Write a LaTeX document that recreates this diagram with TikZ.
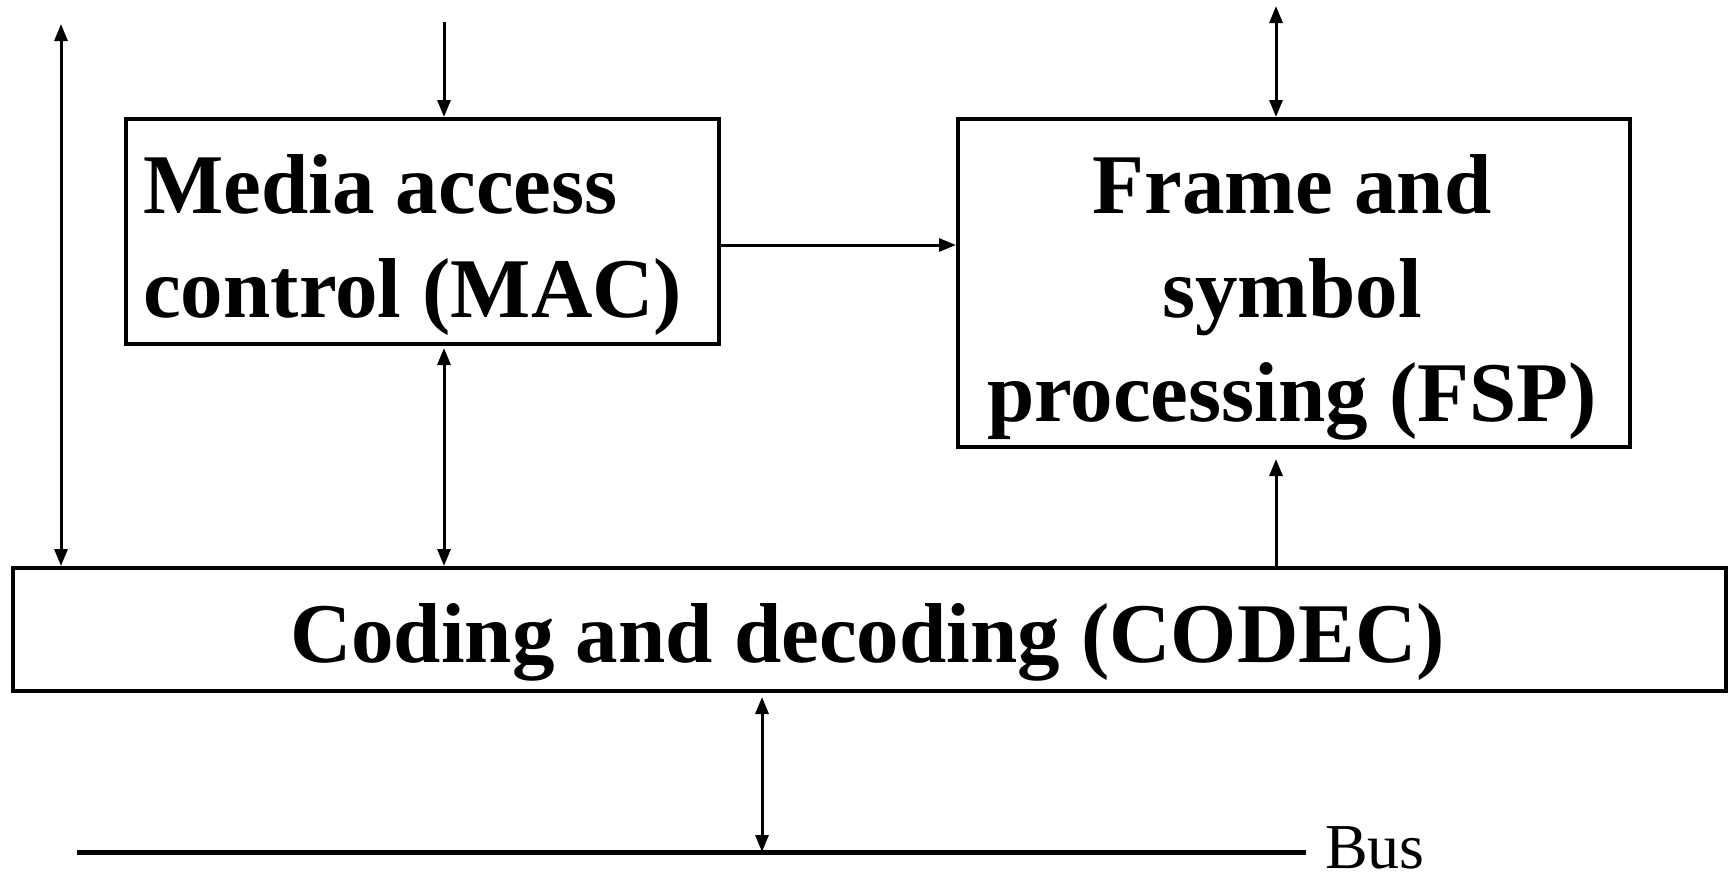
\documentclass[tikz,border=0pt]{standalone}
\usepackage{fontspec}
\setmainfont{Liberation Serif}
\usetikzlibrary{arrows.meta}
\begin{document}
\begin{tikzpicture}[x=1pt,y=-1pt,
  blk/.style={draw,line width=4pt,rectangle,inner sep=0pt,anchor=north west},
  txt/.style={font=\fontsize{85}{104}\selectfont\bfseries,inner sep=0pt},
  con/.style={line width=3pt,-{Triangle[length=17pt,width=13pt]}},
  bicon/.style={line width=3pt,{Triangle[length=17pt,width=13pt]}-{Triangle[length=17pt,width=13pt]}}]
\useasboundingbox (0,0) rectangle (1731,884);
% boxes
\node[blk,minimum width=593pt,minimum height=225pt] (mac) at (124,117) {};
\node[blk,minimum width=672pt,minimum height=328pt] (fsp) at (956,117) {};
\node[blk,minimum width=1713pt,minimum height=123pt] (codec) at (11,566) {};
% texts
\node[txt,anchor=base west] (mac1) at (143,213) {Media access};
\node[txt,anchor=base west] (mac2) at (143,317) {control (MAC)};
\node[txt,anchor=base] (fsp1) at (1292,213) {Frame and};
\node[txt,anchor=base] (fsp2) at (1292,317) {symbol};
\node[txt,anchor=base] (fsp3) at (1292,421) {processing (FSP)};
\node[txt,anchor=base] (codect) at (867.5,662) {Coding and decoding (CODEC)};
% free ends
\coordinate (ltop) at (61,24);
\coordinate (mtop) at (444,22);
\coordinate (ftop) at (1276,6);
\coordinate (busl) at (77,852);
\coordinate (busr) at (1306,852);
\coordinate (busj) at (762,852);
% connectors
\draw[bicon] (ltop) -- (ltop |- codec.north);
\draw[con] (mtop) -- (mtop |- mac.north);
\draw[bicon] (mtop |- mac.south) ++(0,2) -- (mtop |- codec.north);
\draw[con] (mac.east |- 0,245) -- (fsp.west |- 0,245);
\draw[bicon] (ftop) -- (ftop |- fsp.north);
\draw[con] (ftop |- codec.north) -- ([yshift=-10pt]ftop |- fsp.south);
\draw[line width=5pt] (busl) -- (busr);
\draw[bicon] ([yshift=-4pt]busj |- codec.south) -- (busj);
\node[font=\fontsize{64}{76}\selectfont,inner sep=0pt,anchor=base west] (bus) at (1325,868) {Bus};
\end{tikzpicture}
\end{document}
